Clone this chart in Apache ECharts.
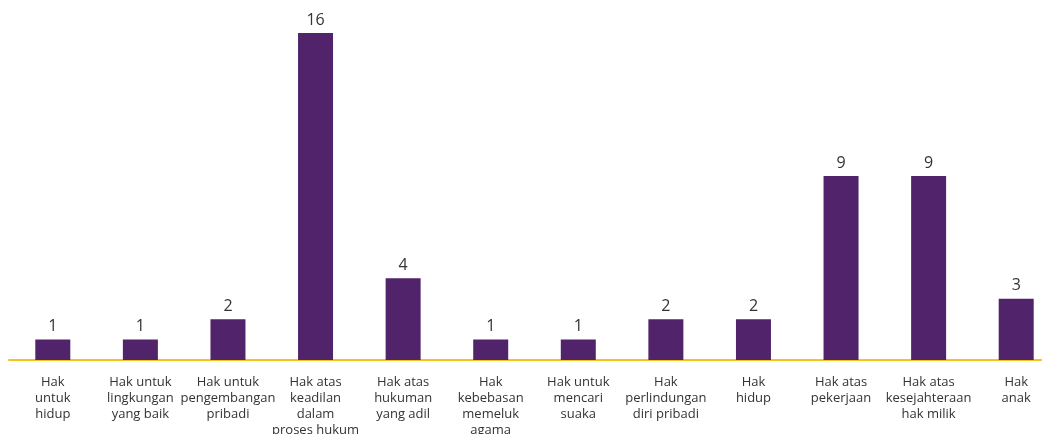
<!DOCTYPE html>
<html>
<head>
<meta charset="utf-8">
<script src="https://cdn.jsdelivr.net/npm/echarts@6/dist/echarts.min.js"></script>
<style>
html,body{margin:0;padding:0;background:#fff;}
#chart{width:1042px;height:434px;}
</style>
</head>
<body>
<div id="chart"></div>
<script>
const categories = [
  "Hak\nuntuk\nhidup",
  "Hak untuk\nlingkungan\nyang baik",
  "Hak untuk\npengembangan\npribadi",
  "Hak atas\nkeadilan\ndalam\nproses hukum",
  "Hak atas\nhukuman\nyang adil",
  "Hak\nkebebasan\nmemeluk\nagama",
  "Hak untuk\nmencari\nsuaka",
  "Hak\nperlindungan\ndiri pribadi",
  "Hak\nhidup",
  "Hak atas\npekerjaan",
  "Hak atas\nkesejahteraan\nhak milik",
  "Hak\nanak"
];
const values = [1, 1, 2, 16, 4, 1, 1, 2, 2, 9, 9, 3];

const chart = echarts.init(document.getElementById('chart'), null, {renderer: 'canvas'});
chart.setOption({
  animation: false,
  grid: {left: 9, right: -18, top: 33, bottom: 74, containLabel: false, outerBoundsMode: 'none'},
  xAxis: {
    type: 'category',
    data: categories,
    axisLine: {lineStyle: {color: '#F5C518', width: 2}},
    axisTick: {show: false},
    axisLabel: {
      interval: 0,
      margin: 14,
      color: '#333333',
      fontFamily: 'Open Sans',
      fontSize: 13,
      lineHeight: 16,
      hideOverlap: false
    }
  },
  yAxis: {
    type: 'value',
    min: 0,
    max: 16,
    show: false,
    splitLine: {show: false}
  },
  series: [{
    type: 'bar',
    data: values,
    barWidth: 35,
    itemStyle: {color: '#51236A'},
    label: {
      show: true,
      position: 'top',
      distance: 5,
      color: '#333333',
      fontFamily: 'Open Sans',
      fontSize: 16
    }
  }]
});
</script>
</body>
</html>
